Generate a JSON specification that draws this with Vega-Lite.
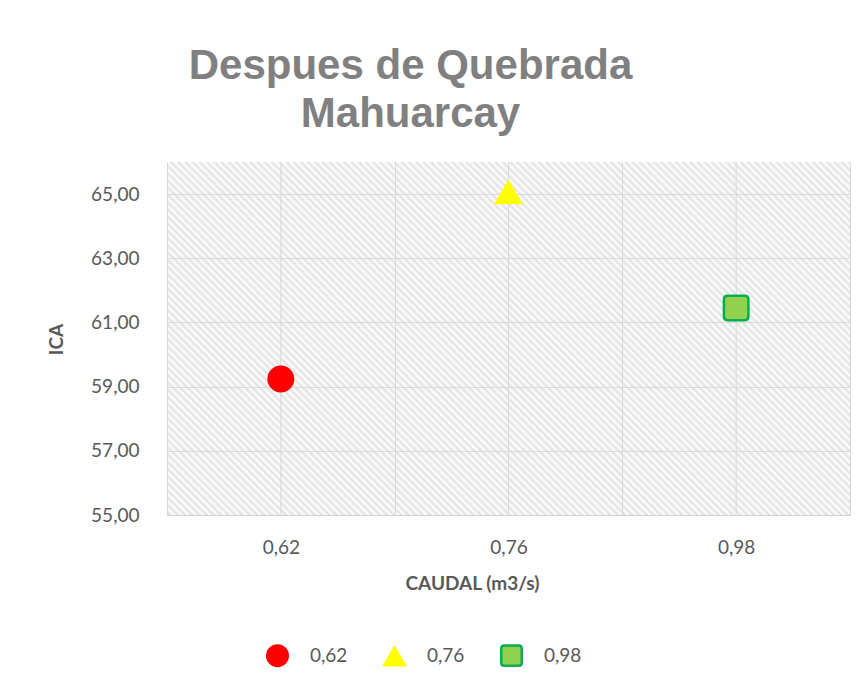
{
  "$schema": "https://vega.github.io/schema/vega-lite/v6.json",
  "width": 683,
  "height": 353,
  "autosize": "none",
  "padding": {"left": 167, "top": 162, "right": 15, "bottom": 169},
  "background": "#ffffff",
  "title": {
    "text": ["Despues de Quebrada", "Mahuarcay"],
    "font": "Liberation Sans",
    "fontSize": 42,
    "fontWeight": "bold",
    "color": "#808080",
    "anchor": "middle",
    "dx": -98,
    "offset": 26,
    "lineHeight": 48
  },
  "data": {"values": [
    {"caudal": "0,62", "ica": 59.24},
    {"caudal": "0,76", "ica": 65.05},
    {"caudal": "0,98", "ica": 61.45}
  ]},
  "encoding": {
    "x": {
      "field": "caudal", "type": "ordinal", "sort": null,
      "scale": {"type": "band", "paddingInner": 0, "paddingOuter": 0},
      "axis": {
        "title": "CAUDAL (m3/s)", "grid": true, "tickBand": "extent", "ticks": false, "tickSize": 0,
        "gridColor": "#d9d9d9", "gridWidth": 1, "domainColor": "#d0d0d0", "domainWidth": 1,
        "labelAngle": 0, "labelFont": "Lato", "labelFontSize": 19, "labelColor": "#595959",
        "labelPadding": 32, "labelBaseline": "middle",
        "titleFont": "Lato", "titleFontSize": 19, "titleFontWeight": "bold", "titleColor": "#595959",
        "titleX": 305, "titleY": 68, "titleBaseline": "middle", "titleAlign": "center"
      }
    }
  },
  "layer": [
    {
      "mark": {"type": "rule", "color": "#d9d9d9", "strokeWidth": 1},
      "encoding": {}
    },
    {
      "mark": {"type": "point", "filled": true, "size": 600, "strokeWidth": 2.5, "opacity": 1},
      "encoding": {
        "y": {
          "field": "ica", "type": "quantitative",
          "scale": {"domain": [55, 66], "nice": false, "zero": false},
          "axis": {
            "title": "ICA", "values": [55, 57, 59, 61, 63, 65],
            "labelExpr": "replace(format(datum.value, '.2f'), '.', ',')",
            "grid": true, "gridColor": "#d9d9d9", "gridWidth": 1, "domain": false, "ticks": false, "tickSize": 0,
            "labelFont": "Lato", "labelFontSize": 19, "labelColor": "#595959", "labelPadding": 28,
            "titleFont": "Lato", "titleFontSize": 19, "titleFontWeight": "bold", "titleColor": "#595959",
            "titleX": -111, "titleY": 177, "titleAngle": -90, "titleAlign": "center", "titleBaseline": "middle"
          }
        },
        "color": {
          "field": "caudal", "type": "nominal",
          "scale": {"domain": ["0,62", "0,76", "0,98"], "range": ["#ff0000", "#ffff00", "#92d050"]},
          "legend": {"title": null, "orient": "none", "legendX": 99, "legendY": 482, "direction": "horizontal",
            "symbolSize": 420, "symbolStrokeWidth": 2.5, "labelFont": "Lato", "labelFontSize": 19, "labelColor": "#595959",
            "labelOffset": 21, "columnPadding": 31}
        },
        "shape": {
          "field": "caudal", "type": "nominal",
          "scale": {"domain": ["0,62", "0,76", "0,98"], "range": ["circle", "triangle-up", "M-0.7,-1H0.7Q1,-1 1,-0.7V0.7Q1,1 0.7,1H-0.7Q-1,1 -1,0.7V-0.7Q-1,-1 -0.7,-1Z"]},
          "legend": {"title": null, "orient": "none", "legendX": 99, "legendY": 482, "direction": "horizontal",
            "symbolSize": 420, "symbolStrokeWidth": 2.5, "labelFont": "Lato", "labelFontSize": 19, "labelColor": "#595959",
            "labelOffset": 21, "columnPadding": 31}
        },
        "stroke": {
          "field": "caudal", "type": "nominal",
          "scale": {"domain": ["0,62", "0,76", "0,98"], "range": ["#ff0000", "#ffff00", "#00b050"]},
          "legend": {"title": null, "orient": "none", "legendX": 99, "legendY": 482, "direction": "horizontal",
            "symbolSize": 420, "symbolStrokeWidth": 2.5, "labelFont": "Lato", "labelFontSize": 19, "labelColor": "#595959",
            "labelOffset": 21, "columnPadding": 31}
        }
      }
    }
  ],
  "config": {
    "view": {
      "stroke": null,
      "fill": {
        "gradient": "linear", "x1": 0, "y1": 1, "x2": 1.6666, "y2": 0.1387,
        "stops": [
{"offset":0,"color":"#ffffff"},{"offset":0.0025,"color":"#e1e1e1"},{"offset":0.005,"color":"#ffffff"},{"offset":0.0075,"color":"#e1e1e1"},
{"offset":0.01,"color":"#ffffff"},{"offset":0.0125,"color":"#e1e1e1"},{"offset":0.015,"color":"#ffffff"},{"offset":0.0175,"color":"#e1e1e1"},
{"offset":0.02,"color":"#ffffff"},{"offset":0.0225,"color":"#e1e1e1"},{"offset":0.025,"color":"#ffffff"},{"offset":0.0275,"color":"#e1e1e1"},
{"offset":0.03,"color":"#ffffff"},{"offset":0.0325,"color":"#e1e1e1"},{"offset":0.035,"color":"#ffffff"},{"offset":0.0375,"color":"#e1e1e1"},
{"offset":0.04,"color":"#ffffff"},{"offset":0.0425,"color":"#e1e1e1"},{"offset":0.045,"color":"#ffffff"},{"offset":0.0475,"color":"#e1e1e1"},
{"offset":0.05,"color":"#ffffff"},{"offset":0.0525,"color":"#e1e1e1"},{"offset":0.055,"color":"#ffffff"},{"offset":0.0575,"color":"#e1e1e1"},
{"offset":0.06,"color":"#ffffff"},{"offset":0.0625,"color":"#e1e1e1"},{"offset":0.065,"color":"#ffffff"},{"offset":0.0675,"color":"#e1e1e1"},
{"offset":0.07,"color":"#ffffff"},{"offset":0.0725,"color":"#e1e1e1"},{"offset":0.075,"color":"#ffffff"},{"offset":0.0775,"color":"#e1e1e1"},
{"offset":0.08,"color":"#ffffff"},{"offset":0.0825,"color":"#e1e1e1"},{"offset":0.085,"color":"#ffffff"},{"offset":0.0875,"color":"#e1e1e1"},
{"offset":0.09,"color":"#ffffff"},{"offset":0.0925,"color":"#e1e1e1"},{"offset":0.095,"color":"#ffffff"},{"offset":0.0975,"color":"#e1e1e1"},
{"offset":0.1,"color":"#ffffff"},{"offset":0.1025,"color":"#e1e1e1"},{"offset":0.105,"color":"#ffffff"},{"offset":0.1075,"color":"#e1e1e1"},
{"offset":0.11,"color":"#ffffff"},{"offset":0.1125,"color":"#e1e1e1"},{"offset":0.115,"color":"#ffffff"},{"offset":0.1175,"color":"#e1e1e1"},
{"offset":0.12,"color":"#ffffff"},{"offset":0.1225,"color":"#e1e1e1"},{"offset":0.125,"color":"#ffffff"},{"offset":0.1275,"color":"#e1e1e1"},
{"offset":0.13,"color":"#ffffff"},{"offset":0.1325,"color":"#e1e1e1"},{"offset":0.135,"color":"#ffffff"},{"offset":0.1375,"color":"#e1e1e1"},
{"offset":0.14,"color":"#ffffff"},{"offset":0.1425,"color":"#e1e1e1"},{"offset":0.145,"color":"#ffffff"},{"offset":0.1475,"color":"#e1e1e1"},
{"offset":0.15,"color":"#ffffff"},{"offset":0.1525,"color":"#e1e1e1"},{"offset":0.155,"color":"#ffffff"},{"offset":0.1575,"color":"#e1e1e1"},
{"offset":0.16,"color":"#ffffff"},{"offset":0.1625,"color":"#e1e1e1"},{"offset":0.165,"color":"#ffffff"},{"offset":0.1675,"color":"#e1e1e1"},
{"offset":0.17,"color":"#ffffff"},{"offset":0.1725,"color":"#e1e1e1"},{"offset":0.175,"color":"#ffffff"},{"offset":0.1775,"color":"#e1e1e1"},
{"offset":0.18,"color":"#ffffff"},{"offset":0.1825,"color":"#e1e1e1"},{"offset":0.185,"color":"#ffffff"},{"offset":0.1875,"color":"#e1e1e1"},
{"offset":0.19,"color":"#ffffff"},{"offset":0.1925,"color":"#e1e1e1"},{"offset":0.195,"color":"#ffffff"},{"offset":0.1975,"color":"#e1e1e1"},
{"offset":0.2,"color":"#ffffff"},{"offset":0.2025,"color":"#e1e1e1"},{"offset":0.205,"color":"#ffffff"},{"offset":0.2075,"color":"#e1e1e1"},
{"offset":0.21,"color":"#ffffff"},{"offset":0.2125,"color":"#e1e1e1"},{"offset":0.215,"color":"#ffffff"},{"offset":0.2175,"color":"#e1e1e1"},
{"offset":0.22,"color":"#ffffff"},{"offset":0.2225,"color":"#e1e1e1"},{"offset":0.225,"color":"#ffffff"},{"offset":0.2275,"color":"#e1e1e1"},
{"offset":0.23,"color":"#ffffff"},{"offset":0.2325,"color":"#e1e1e1"},{"offset":0.235,"color":"#ffffff"},{"offset":0.2375,"color":"#e1e1e1"},
{"offset":0.24,"color":"#ffffff"},{"offset":0.2425,"color":"#e1e1e1"},{"offset":0.245,"color":"#ffffff"},{"offset":0.2475,"color":"#e1e1e1"},
{"offset":0.25,"color":"#ffffff"},{"offset":0.2525,"color":"#e1e1e1"},{"offset":0.255,"color":"#ffffff"},{"offset":0.2575,"color":"#e1e1e1"},
{"offset":0.26,"color":"#ffffff"},{"offset":0.2625,"color":"#e1e1e1"},{"offset":0.265,"color":"#ffffff"},{"offset":0.2675,"color":"#e1e1e1"},
{"offset":0.27,"color":"#ffffff"},{"offset":0.2725,"color":"#e1e1e1"},{"offset":0.275,"color":"#ffffff"},{"offset":0.2775,"color":"#e1e1e1"},
{"offset":0.28,"color":"#ffffff"},{"offset":0.2825,"color":"#e1e1e1"},{"offset":0.285,"color":"#ffffff"},{"offset":0.2875,"color":"#e1e1e1"},
{"offset":0.29,"color":"#ffffff"},{"offset":0.2925,"color":"#e1e1e1"},{"offset":0.295,"color":"#ffffff"},{"offset":0.2975,"color":"#e1e1e1"},
{"offset":0.3,"color":"#ffffff"},{"offset":0.3025,"color":"#e1e1e1"},{"offset":0.305,"color":"#ffffff"},{"offset":0.3075,"color":"#e1e1e1"},
{"offset":0.31,"color":"#ffffff"},{"offset":0.3125,"color":"#e1e1e1"},{"offset":0.315,"color":"#ffffff"},{"offset":0.3175,"color":"#e1e1e1"},
{"offset":0.32,"color":"#ffffff"},{"offset":0.3225,"color":"#e1e1e1"},{"offset":0.325,"color":"#ffffff"},{"offset":0.3275,"color":"#e1e1e1"},
{"offset":0.33,"color":"#ffffff"},{"offset":0.3325,"color":"#e1e1e1"},{"offset":0.335,"color":"#ffffff"},{"offset":0.3375,"color":"#e1e1e1"},
{"offset":0.34,"color":"#ffffff"},{"offset":0.3425,"color":"#e1e1e1"},{"offset":0.345,"color":"#ffffff"},{"offset":0.3475,"color":"#e1e1e1"},
{"offset":0.35,"color":"#ffffff"},{"offset":0.3525,"color":"#e1e1e1"},{"offset":0.355,"color":"#ffffff"},{"offset":0.3575,"color":"#e1e1e1"},
{"offset":0.36,"color":"#ffffff"},{"offset":0.3625,"color":"#e1e1e1"},{"offset":0.365,"color":"#ffffff"},{"offset":0.3675,"color":"#e1e1e1"},
{"offset":0.37,"color":"#ffffff"},{"offset":0.3725,"color":"#e1e1e1"},{"offset":0.375,"color":"#ffffff"},{"offset":0.3775,"color":"#e1e1e1"},
{"offset":0.38,"color":"#ffffff"},{"offset":0.3825,"color":"#e1e1e1"},{"offset":0.385,"color":"#ffffff"},{"offset":0.3875,"color":"#e1e1e1"},
{"offset":0.39,"color":"#ffffff"},{"offset":0.3925,"color":"#e1e1e1"},{"offset":0.395,"color":"#ffffff"},{"offset":0.3975,"color":"#e1e1e1"},
{"offset":0.4,"color":"#ffffff"},{"offset":0.4025,"color":"#e1e1e1"},{"offset":0.405,"color":"#ffffff"},{"offset":0.4075,"color":"#e1e1e1"},
{"offset":0.41,"color":"#ffffff"},{"offset":0.4125,"color":"#e1e1e1"},{"offset":0.415,"color":"#ffffff"},{"offset":0.4175,"color":"#e1e1e1"},
{"offset":0.42,"color":"#ffffff"},{"offset":0.4225,"color":"#e1e1e1"},{"offset":0.425,"color":"#ffffff"},{"offset":0.4275,"color":"#e1e1e1"},
{"offset":0.43,"color":"#ffffff"},{"offset":0.4325,"color":"#e1e1e1"},{"offset":0.435,"color":"#ffffff"},{"offset":0.4375,"color":"#e1e1e1"},
{"offset":0.44,"color":"#ffffff"},{"offset":0.4425,"color":"#e1e1e1"},{"offset":0.445,"color":"#ffffff"},{"offset":0.4475,"color":"#e1e1e1"},
{"offset":0.45,"color":"#ffffff"},{"offset":0.4525,"color":"#e1e1e1"},{"offset":0.455,"color":"#ffffff"},{"offset":0.4575,"color":"#e1e1e1"},
{"offset":0.46,"color":"#ffffff"},{"offset":0.4625,"color":"#e1e1e1"},{"offset":0.465,"color":"#ffffff"},{"offset":0.4675,"color":"#e1e1e1"},
{"offset":0.47,"color":"#ffffff"},{"offset":0.4725,"color":"#e1e1e1"},{"offset":0.475,"color":"#ffffff"},{"offset":0.4775,"color":"#e1e1e1"},
{"offset":0.48,"color":"#ffffff"},{"offset":0.4825,"color":"#e1e1e1"},{"offset":0.485,"color":"#ffffff"},{"offset":0.4875,"color":"#e1e1e1"},
{"offset":0.49,"color":"#ffffff"},{"offset":0.4925,"color":"#e1e1e1"},{"offset":0.495,"color":"#ffffff"},{"offset":0.4975,"color":"#e1e1e1"},
{"offset":0.5,"color":"#ffffff"},{"offset":0.5025,"color":"#e1e1e1"},{"offset":0.505,"color":"#ffffff"},{"offset":0.5075,"color":"#e1e1e1"},
{"offset":0.51,"color":"#ffffff"},{"offset":0.5125,"color":"#e1e1e1"},{"offset":0.515,"color":"#ffffff"},{"offset":0.5175,"color":"#e1e1e1"},
{"offset":0.52,"color":"#ffffff"},{"offset":0.5225,"color":"#e1e1e1"},{"offset":0.525,"color":"#ffffff"},{"offset":0.5275,"color":"#e1e1e1"},
{"offset":0.53,"color":"#ffffff"},{"offset":0.5325,"color":"#e1e1e1"},{"offset":0.535,"color":"#ffffff"},{"offset":0.5375,"color":"#e1e1e1"},
{"offset":0.54,"color":"#ffffff"},{"offset":0.5425,"color":"#e1e1e1"},{"offset":0.545,"color":"#ffffff"},{"offset":0.5475,"color":"#e1e1e1"},
{"offset":0.55,"color":"#ffffff"},{"offset":0.5525,"color":"#e1e1e1"},{"offset":0.555,"color":"#ffffff"},{"offset":0.5575,"color":"#e1e1e1"},
{"offset":0.56,"color":"#ffffff"},{"offset":0.5625,"color":"#e1e1e1"},{"offset":0.565,"color":"#ffffff"},{"offset":0.5675,"color":"#e1e1e1"},
{"offset":0.57,"color":"#ffffff"},{"offset":0.5725,"color":"#e1e1e1"},{"offset":0.575,"color":"#ffffff"},{"offset":0.5775,"color":"#e1e1e1"},
{"offset":0.58,"color":"#ffffff"},{"offset":0.5825,"color":"#e1e1e1"},{"offset":0.585,"color":"#ffffff"},{"offset":0.5875,"color":"#e1e1e1"},
{"offset":0.59,"color":"#ffffff"},{"offset":0.5925,"color":"#e1e1e1"},{"offset":0.595,"color":"#ffffff"},{"offset":0.5975,"color":"#e1e1e1"},
{"offset":0.6,"color":"#ffffff"},{"offset":0.6025,"color":"#e1e1e1"},{"offset":0.605,"color":"#ffffff"},{"offset":0.6075,"color":"#e1e1e1"},
{"offset":0.61,"color":"#ffffff"},{"offset":0.6125,"color":"#e1e1e1"},{"offset":0.615,"color":"#ffffff"},{"offset":0.6175,"color":"#e1e1e1"},
{"offset":0.62,"color":"#ffffff"},{"offset":0.6225,"color":"#e1e1e1"},{"offset":0.625,"color":"#ffffff"},{"offset":0.6275,"color":"#e1e1e1"},
{"offset":0.63,"color":"#ffffff"},{"offset":0.6325,"color":"#e1e1e1"},{"offset":0.635,"color":"#ffffff"},{"offset":0.6375,"color":"#e1e1e1"},
{"offset":0.64,"color":"#ffffff"},{"offset":0.6425,"color":"#e1e1e1"},{"offset":0.645,"color":"#ffffff"},{"offset":0.6475,"color":"#e1e1e1"},
{"offset":0.65,"color":"#ffffff"},{"offset":0.6525,"color":"#e1e1e1"},{"offset":0.655,"color":"#ffffff"},{"offset":0.6575,"color":"#e1e1e1"},
{"offset":0.66,"color":"#ffffff"},{"offset":0.6625,"color":"#e1e1e1"},{"offset":0.665,"color":"#ffffff"},{"offset":0.6675,"color":"#e1e1e1"},
{"offset":0.67,"color":"#ffffff"},{"offset":0.6725,"color":"#e1e1e1"},{"offset":0.675,"color":"#ffffff"},{"offset":0.6775,"color":"#e1e1e1"},
{"offset":0.68,"color":"#ffffff"},{"offset":0.6825,"color":"#e1e1e1"},{"offset":0.685,"color":"#ffffff"},{"offset":0.6875,"color":"#e1e1e1"},
{"offset":0.69,"color":"#ffffff"},{"offset":0.6925,"color":"#e1e1e1"},{"offset":0.695,"color":"#ffffff"},{"offset":0.6975,"color":"#e1e1e1"},
{"offset":0.7,"color":"#ffffff"},{"offset":0.7025,"color":"#e1e1e1"},{"offset":0.705,"color":"#ffffff"},{"offset":0.7075,"color":"#e1e1e1"},
{"offset":0.71,"color":"#ffffff"},{"offset":0.7125,"color":"#e1e1e1"},{"offset":0.715,"color":"#ffffff"},{"offset":0.7175,"color":"#e1e1e1"},
{"offset":0.72,"color":"#ffffff"}
        ]
      }
    }
  }
}
